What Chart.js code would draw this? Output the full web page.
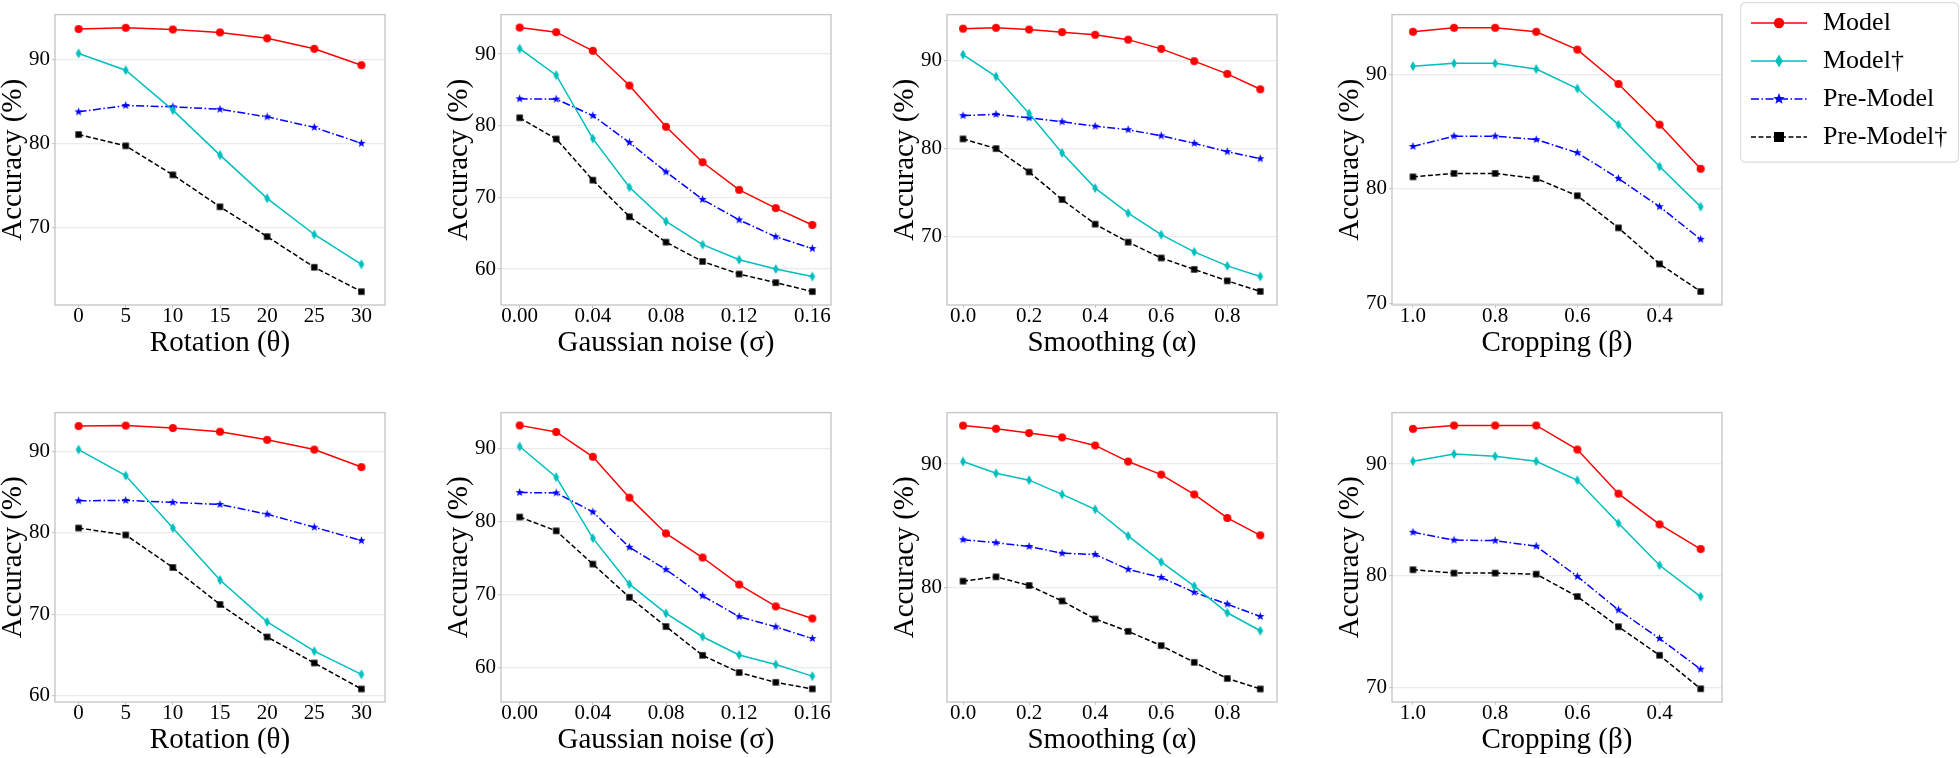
<!DOCTYPE html>
<html>
<head>
<meta charset="utf-8">
<script src="https://cdn.jsdelivr.net/npm/chart.js@4.4.1/dist/chart.umd.min.js"></script>
<style>
  body { margin: 0; background: #fff; width: 1960px; height: 758px; overflow: hidden; position: relative; }
  canvas { position: absolute; }
</style>
</head>
<body>
<canvas id="warm" width="10" height="10" style="left:1950px;top:748px"></canvas>
<script>
// series, in drawing order
var seriesNames = ['Model', 'Model\u2020', 'Pre-Model', 'Pre-Model\u2020'];
var seriesColors = ['#ff0000', '#00bfbf', '#0000ff', '#000000'];

// x values of each perturbation
var rotationX = [0, 5, 10, 15, 20, 25, 30];
var noiseX = [0, 0.02, 0.04, 0.06, 0.08, 0.10, 0.12, 0.14, 0.16];
var smoothX = [0, 0.1, 0.2, 0.3, 0.4, 0.5, 0.6, 0.7, 0.8, 0.9];
var cropX = [1.0, 0.9, 0.8, 0.7, 0.6, 0.5, 0.4, 0.3];

// tick labels
var rotationTicks = [0, 5, 10, 15, 20, 25, 30];
var noiseTicks = [0, 0.04, 0.08, 0.12, 0.16];
var smoothTicks = [0, 0.2, 0.4, 0.6, 0.8];
var cropTicks = [1.0, 0.8, 0.6, 0.4];

// accuracy (%), rows = Model, Model†, Pre-Model, Pre-Model†
var rotationTop = [
  [93.6, 93.75, 93.55, 93.2, 92.5, 91.25, 89.3],
  [90.7, 88.7, 83.95, 78.6, 73.45, 69.15, 65.6],
  [83.75, 84.5, 84.35, 84.05, 83.15, 81.9, 80.0],
  [81.05, 79.7, 76.25, 72.45, 68.9, 65.25, 62.35]
];
var noiseTop = [
  [93.7, 93.05, 90.45, 85.6, 79.85, 74.9, 71.05, 68.5, 66.15],
  [90.75, 87.05, 78.2, 71.4, 66.65, 63.4, 61.3, 60.0, 58.95],
  [83.75, 83.7, 81.4, 77.65, 73.55, 69.7, 66.85, 64.5, 62.85],
  [81.1, 78.15, 72.4, 67.3, 63.75, 61.05, 59.3, 58.1, 56.85]
];
var smoothTop = [
  [93.65, 93.75, 93.55, 93.25, 92.95, 92.4, 91.35, 89.95, 88.5, 86.75],
  [90.7, 88.2, 84.0, 79.5, 75.5, 72.65, 70.2, 68.25, 66.65, 65.45],
  [83.75, 83.9, 83.5, 83.05, 82.55, 82.15, 81.45, 80.6, 79.65, 78.85],
  [81.1, 80.0, 77.35, 74.2, 71.4, 69.35, 67.55, 66.25, 64.95, 63.75]
];
var cropTop = [
  [93.7, 94.05, 94.05, 93.7, 92.15, 89.15, 85.6, 81.75],
  [90.7, 90.95, 90.95, 90.45, 88.75, 85.6, 81.95, 78.45],
  [83.7, 84.6, 84.6, 84.3, 83.15, 80.9, 78.45, 75.6],
  [81.05, 81.35, 81.35, 80.9, 79.4, 76.6, 73.45, 71.05]
];
var rotationBottom = [
  [93.15, 93.2, 92.9, 92.45, 91.45, 90.25, 88.1],
  [90.25, 87.05, 80.6, 74.2, 69.05, 65.45, 62.6],
  [83.95, 84.0, 83.75, 83.5, 82.3, 80.7, 79.05],
  [80.6, 79.75, 75.75, 71.2, 67.2, 64.0, 60.8]
];
var noiseBottom = [
  [93.15, 92.25, 88.85, 83.25, 78.35, 75.05, 71.35, 68.35, 66.7],
  [90.25, 86.05, 77.7, 71.4, 67.4, 64.2, 61.7, 60.4, 58.8],
  [83.95, 83.9, 81.3, 76.45, 73.4, 69.8, 66.95, 65.55, 63.95],
  [80.6, 78.7, 74.15, 69.6, 65.6, 61.65, 59.3, 57.95, 57.05]
];
var smoothBottom = [
  [93.1, 92.85, 92.5, 92.15, 91.5, 90.2, 89.15, 87.55, 85.65, 84.25],
  [90.2, 89.25, 88.7, 87.55, 86.35, 84.2, 82.1, 80.15, 78.0, 76.55],
  [83.9, 83.65, 83.35, 82.8, 82.7, 81.5, 80.85, 79.65, 78.7, 77.7],
  [80.55, 80.9, 80.2, 78.95, 77.5, 76.5, 75.35, 74.0, 72.7, 71.85]
];
var cropBottom = [
  [93.15, 93.45, 93.45, 93.45, 91.3, 87.35, 84.6, 82.4],
  [90.25, 90.9, 90.7, 90.25, 88.55, 84.7, 80.95, 78.15],
  [83.9, 83.2, 83.15, 82.65, 79.95, 76.95, 74.4, 71.65],
  [80.55, 80.25, 80.25, 80.15, 78.15, 75.45, 72.9, 69.9]
];

var SERIF = "'Liberation Serif', serif";

// touch the serif face once before any chart draws text
var warm = document.getElementById('warm').getContext('2d');
warm.font = "29px 'Liberation Serif'";
warm.fillText('Accuracy (%)', 20, 20);
warm.font = "normal 21px 'Liberation Serif', serif";
warm.fillText('90', 20, 20);

Chart.defaults.font.family = SERIF;
Chart.defaults.color = '#000';

var Y_W = 55, X_H = 53, PAD_R = 14, PAD_T = 1;
var dashes = [[], [], [8, 2.5, 1.5, 2.5], [5, 2.5]];

function drawMarker(c, kind, x, y, s, color) {
  c.fillStyle = color;
  c.beginPath();
  if (kind === 'circle') {
    c.arc(x, y, s, 0, Math.PI * 2);
  } else if (kind === 'diamond') {
    c.moveTo(x, y - s); c.lineTo(x + s * 0.58, y); c.lineTo(x, y + s); c.lineTo(x - s * 0.58, y);
    c.closePath();
  } else if (kind === 'star') {
    for (var i = 0; i < 10; i++) {
      var r = i % 2 ? s * 0.42 : s;
      var a = -Math.PI / 2 + i * Math.PI / 5;
      c.lineTo(x + r * Math.cos(a), y + r * Math.sin(a));
    }
    c.closePath();
  } else {
    c.rect(x - s, y - s, 2 * s, 2 * s);
  }
  c.fill();
}

function markerImage(kind, color, s) {
  var cv = document.createElement('canvas');
  cv.width = Math.ceil(2 * s + 2); cv.height = Math.ceil(2 * s + 2);
  drawMarker(cv.getContext('2d'), kind, cv.width / 2, cv.height / 2, s, color);
  return cv;
}

function legendImage(i, kind, s) {
  var cv = document.createElement('canvas');
  cv.width = 56; cv.height = 18;
  var c = cv.getContext('2d');
  c.strokeStyle = seriesColors[i];
  c.lineWidth = 1.6;
  c.setLineDash(dashes[i]);
  c.beginPath(); c.moveTo(0, 9); c.lineTo(56, 9); c.stroke();
  drawMarker(c, kind, 28, 9, s, seriesColors[i]);
  return cv;
}

var pointImgs = [
  markerImage('circle', seriesColors[0], 4),
  markerImage('diamond', seriesColors[1], 5),
  markerImage('star', seriesColors[2], 4.4),
  markerImage('square', seriesColors[3], 3.2)
];
var legendImgs = [
  legendImage(0, 'circle', 5.2),
  legendImage(1, 'diamond', 6.5),
  legendImage(2, 'star', 6),
  legendImage(3, 'square', 5)
];

var boxPlugin = {
  id: 'box',
  beforeDatasetsDraw: function (chart) {
    var a = chart.chartArea, c = chart.ctx;
    c.save();
    c.strokeStyle = '#c8c8c8';
    c.lineWidth = 1.4;
    c.strokeRect(a.left, a.top, a.right - a.left, a.bottom - a.top);
    c.restore();
  }
};

function makePanel(left, top, boxH, xs, series, xTicks, xMin, xMax, reverse, decimals, yMin, yMax, yTicks, title) {
  var cv = document.createElement('canvas');
  cv.width = Y_W + 330 + PAD_R;
  cv.height = PAD_T + boxH + X_H;
  cv.style.left = (left - Y_W) + 'px';
  cv.style.top = (top - PAD_T) + 'px';
  document.body.appendChild(cv);

  var datasets = series.map(function (ys, i) {
    return {
      label: seriesNames[i],
      data: ys.map(function (y, j) { return {x: xs[j], y: y}; }),
      borderColor: seriesColors[i],
      backgroundColor: seriesColors[i],
      borderWidth: 1.5,
      borderDash: dashes[i],
      pointStyle: pointImgs[i],
      pointRadius: 4,
      pointHoverRadius: 4,
      tension: 0,
      fill: false
    };
  });

  new Chart(cv, {
    type: 'line',
    data: {datasets: datasets},
    options: {
      responsive: false,
      animation: false,
      events: [],
      layout: {padding: {left: 0, top: PAD_T, right: PAD_R, bottom: 0}},
      plugins: {legend: {display: false}, tooltip: {enabled: false}},
      scales: {
        x: {
          type: 'linear',
          min: xMin, max: xMax, reverse: reverse,
          border: {display: false},
          grid: {drawOnChartArea: false, drawTicks: true, tickLength: 3, tickColor: '#c8c8c8'},
          ticks: {
            font: {size: 21, family: SERIF}, padding: -4, maxRotation: 0,
            callback: function (v) { return Number(v).toFixed(decimals); }
          },
          afterBuildTicks: function (s) { s.ticks = xTicks.map(function (v) { return {value: v}; }); },
          afterFit: function (s) { s.height = X_H; },
          title: {display: true, text: title, font: {size: 29, family: SERIF}, padding: {top: 0, bottom: -3}}
        },
        y: {
          type: 'linear',
          min: yMin, max: yMax,
          border: {display: false},
          grid: {color: '#ebebeb', lineWidth: 1.2, tickLength: 3, tickColor: '#c8c8c8'},
          ticks: {font: {size: 21, family: SERIF}, padding: 2},
          afterBuildTicks: function (s) { s.ticks = yTicks.map(function (v) { return {value: v}; }); },
          afterFit: function (s) { s.width = Y_W; },
          title: {display: true, text: 'Accuracy (%)', font: {size: 29, family: SERIF}, padding: {top: -4, bottom: 0}}
        }
      }
    },
    plugins: [boxPlugin]
  });
}

var colLeft = [55, 501, 947, 1392];
var rowTop = [1, 399];
var rowH = [304, 303];

// top row
makePanel(colLeft[0], rowTop[0], rowH[0], rotationX, rotationTop, rotationTicks, -2.5, 32.5, false, 0, 60.76, 95.32, [70, 80, 90], 'Rotation (\u03b8)');
makePanel(colLeft[1], rowTop[0], rowH[0], noiseX, noiseTop, noiseTicks, -0.0102, 0.1702, false, 2, 54.98, 95.5, [60, 70, 80, 90], 'Gaussian noise (\u03c3)');
makePanel(colLeft[2], rowTop[0], rowH[0], smoothX, smoothTop, smoothTicks, -0.0485, 0.9506, false, 1, 62.2, 95.25, [70, 80, 90], 'Smoothing (\u03b1)');
makePanel(colLeft[3], rowTop[0], rowH[0], cropX, cropTop, cropTicks, 0.248, 1.051, true, 1, 69.87, 95.2, [70, 80, 90], 'Cropping (\u03b2)');
// bottom row
makePanel(colLeft[0], rowTop[1], rowH[1], rotationX, rotationBottom, rotationTicks, -2.5, 32.5, false, 0, 59.2, 94.8, [60, 70, 80, 90], 'Rotation (\u03b8)');
makePanel(colLeft[1], rowTop[1], rowH[1], noiseX, noiseBottom, noiseTicks, -0.0102, 0.1702, false, 2, 55.26, 94.9, [60, 70, 80, 90], 'Gaussian noise (\u03c3)');
makePanel(colLeft[2], rowTop[1], rowH[1], smoothX, smoothBottom, smoothTicks, -0.0485, 0.9506, false, 1, 70.8, 94.15, [80, 90], 'Smoothing (\u03b1)');
makePanel(colLeft[3], rowTop[1], rowH[1], cropX, cropBottom, cropTicks, 0.248, 1.051, true, 1, 68.72, 94.6, [70, 80, 90], 'Cropping (\u03b2)');

// legend, drawn by Chart.js in its own small canvas
var lg = document.createElement('canvas');
lg.width = 224; lg.height = 170;
lg.style.left = '1736px'; lg.style.top = '-2px';
document.body.appendChild(lg);

var framePlugin = {
  id: 'frame',
  beforeDraw: function (chart) {
    var c = chart.ctx;
    c.save();
    c.strokeStyle = '#dcdcdc';
    c.lineWidth = 1.2;
    c.beginPath();
    c.roundRect(4.5, 4.7, 218, 159.5, 5);
    c.stroke();
    c.restore();
  }
};

new Chart(lg, {
  type: 'line',
  data: {
    datasets: seriesNames.map(function (n, i) {
      return {label: n, data: [], borderColor: seriesColors[i], backgroundColor: seriesColors[i], pointStyle: legendImgs[i]};
    })
  },
  options: {
    responsive: false,
    animation: false,
    events: [],
    scales: {x: {display: false}, y: {display: false}},
    plugins: {
      tooltip: {enabled: false},
      legend: {
        position: 'top',
        align: 'start',
        maxHeight: 200,
        labels: {usePointStyle: true, pointStyleWidth: 62, padding: 12, color: '#000', font: {size: 26, family: SERIF}}
      }
    }
  },
  plugins: [framePlugin]
});
</script>
</body>
</html>
